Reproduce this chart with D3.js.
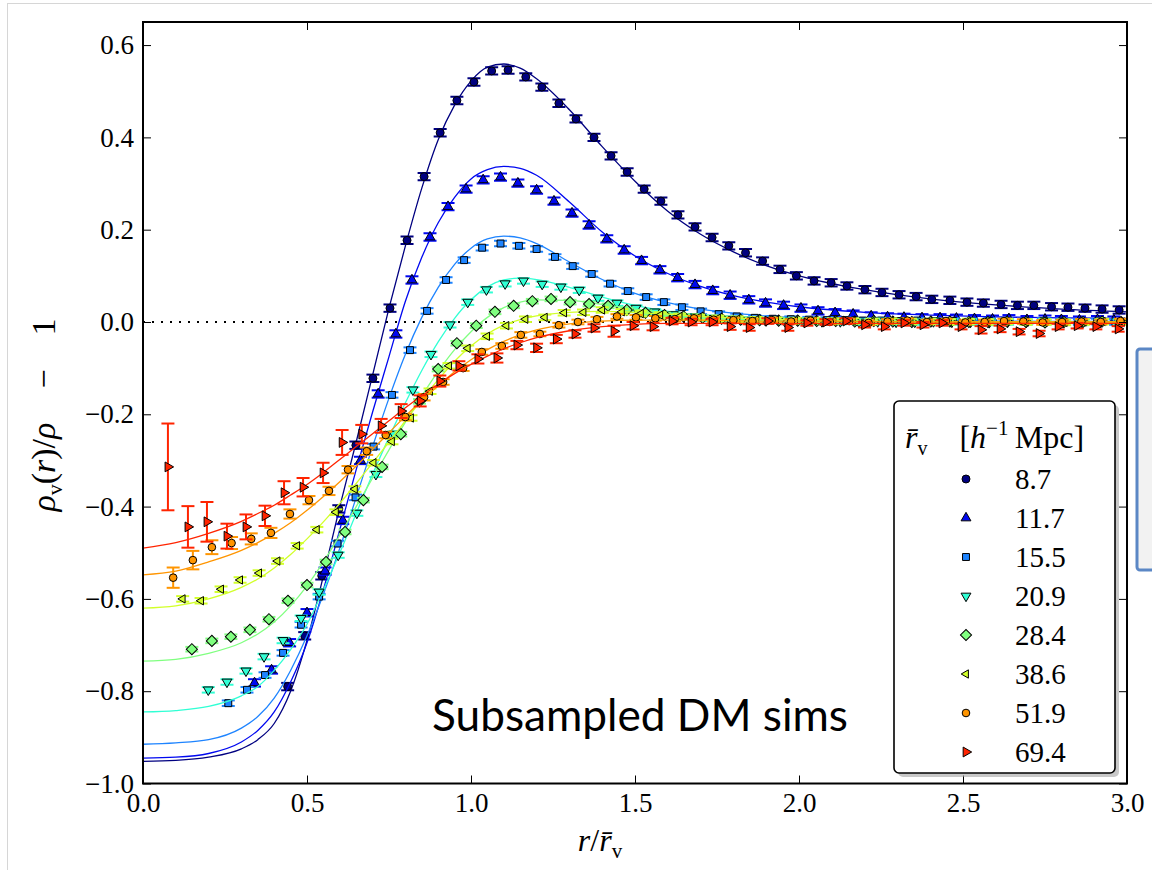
<!DOCTYPE html>
<html>
<head>
<meta charset="utf-8">
<script src="https://cdn.jsdelivr.net/npm/d3@7"></script>
<style>
  html, body { margin: 0; padding: 0; background: #fff; }
  svg { display: block; }
</style>
</head>
<body>
<div id="chart"></div>
<script>
// legend labels (mean void radius, h^-1 Mpc)
const voidRadii = ['8.7', '11.7', '15.5', '20.9', '28.4', '38.6', '51.9', '69.4'];

const xTicks = [0.0, 0.5, 1.0, 1.5, 2.0, 2.5, 3.0];
const yTicks = [-1.0, -0.8, -0.6, -0.4, -0.2, 0.0, 0.2, 0.4, 0.6];

// fitted profiles, sampled on a shared r grid
const fitR = [0, 0.1, 0.2, 0.3, 0.35, 0.4, 0.45, 0.5, 0.55, 0.6, 0.65, 0.7, 0.75, 0.8, 0.85, 0.9, 0.95, 1.0,
  1.05, 1.1, 1.15, 1.2, 1.3, 1.4, 1.5, 1.6, 1.7, 1.8, 1.9, 2.0, 2.2, 2.4, 2.6, 2.8, 3.0];
const fit87 = [-0.952, -0.950, -0.943, -0.925, -0.905, -0.87, -0.80, -0.69, -0.55, -0.40, -0.26, -0.115, 0.03, 0.165,
  0.29, 0.395, 0.47, 0.522, 0.552, 0.559, 0.55, 0.527, 0.46, 0.38, 0.305, 0.24, 0.19, 0.152, 0.122, 0.10, 0.07, 0.05,
  0.037, 0.028, 0.022];
const fit117 = [-0.945, -0.943, -0.935, -0.91, -0.885, -0.845, -0.78, -0.695, -0.58, -0.45, -0.32, -0.195, -0.075,
  0.045, 0.14, 0.215, 0.27, 0.31, 0.33, 0.337, 0.333, 0.318, 0.26, 0.195, 0.143, 0.105, 0.077, 0.057, 0.043, 0.033,
  0.021, 0.015, 0.011, 0.009, 0.008];
const fit155 = [-0.915, -0.912, -0.905, -0.88, -0.855, -0.815, -0.755, -0.68, -0.59, -0.49, -0.38, -0.27, -0.165,
  -0.07, 0.01, 0.075, 0.125, 0.16, 0.18, 0.186, 0.182, 0.17, 0.13, 0.092, 0.062, 0.042, 0.028, 0.019, 0.013, 0.009,
  0.005, 0.003, 0.002, 0.001, 0.001];
const fit209 = [-0.845, -0.842, -0.833, -0.81, -0.79, -0.755, -0.71, -0.655, -0.58, -0.50, -0.415, -0.33, -0.25,
  -0.175, -0.105, -0.043, 0.008, 0.048, 0.076, 0.091, 0.095, 0.092, 0.075, 0.054, 0.036, 0.023, 0.014, 0.009, 0.006,
  0.004, 0.002, 0.001, 0, 0, 0];
const fit284 = [-0.735, -0.731, -0.718, -0.695, -0.676, -0.65, -0.615, -0.572, -0.52, -0.462, -0.40, -0.338, -0.277,
  -0.217, -0.16, -0.107, -0.06, -0.021, 0.01, 0.031, 0.043, 0.048, 0.047, 0.038, 0.028, 0.019, 0.012, 0.008, 0.005,
  0.003, 0.001, 0, 0, 0, 0];
const fit386 = [-0.62, -0.615, -0.60, -0.575, -0.557, -0.533, -0.504, -0.47, -0.433, -0.393, -0.35, -0.305, -0.26,
  -0.214, -0.168, -0.125, -0.085, -0.052, -0.026, -0.007, 0.005, 0.013, 0.021, 0.023, 0.021, 0.017, 0.012, 0.009,
  0.006, 0.004, 0.002, 0.001, 0, 0, 0];
const fit519 = [-0.548, -0.54, -0.52, -0.495, -0.478, -0.458, -0.435, -0.408, -0.378, -0.346, -0.312, -0.276, -0.24,
  -0.204, -0.17, -0.138, -0.108, -0.082, -0.06, -0.042, -0.028, -0.017, -0.004, 0.002, 0.004, 0.004, 0.004, 0.003,
  0.002, 0.002, 0.001, 0, 0, 0, 0];
const fit694 = [-0.49, -0.478, -0.458, -0.432, -0.415, -0.397, -0.375, -0.352, -0.326, -0.298, -0.27, -0.242, -0.214,
  -0.186, -0.16, -0.135, -0.112, -0.092, -0.074, -0.058, -0.045, -0.034, -0.019, -0.01, -0.005, -0.003, -0.003,
  -0.003, -0.003, -0.003, -0.003, -0.003, -0.003, -0.003, -0.003];

// stacked simulation profiles: bin centres r and density contrast
const r87 = [0.441, 0.493, 0.545, 0.597, 0.649, 0.701, 0.753, 0.805, 0.857, 0.906, 0.957, 1.009, 1.063, 1.113, 1.167,
  1.216, 1.268, 1.32, 1.375, 1.427, 1.476, 1.528, 1.579, 1.631, 1.683, 1.735, 1.786, 1.837, 1.889, 1.942, 1.992, 2.046,
  2.098, 2.146, 2.201, 2.253, 2.305, 2.357, 2.405, 2.46, 2.512, 2.562, 2.616, 2.666, 2.716, 2.77, 2.82, 2.872, 2.924,
  2.976];
const d87 = [-0.79, -0.68, -0.55, -0.405, -0.267, -0.122, 0.03, 0.177, 0.315, 0.41, 0.48, 0.52, 0.544, 0.546, 0.531,
  0.509, 0.474, 0.44, 0.40, 0.36, 0.325, 0.288, 0.262, 0.232, 0.206, 0.183, 0.165, 0.15, 0.132, 0.114, 0.10, 0.089,
  0.085, 0.078, 0.07, 0.064, 0.059, 0.055, 0.049, 0.047, 0.043, 0.041, 0.038, 0.036, 0.036, 0.033, 0.032, 0.030, 0.028,
  0.026];

const r117 = [0.34, 0.392, 0.447, 0.50, 0.555, 0.609, 0.663, 0.717, 0.771, 0.82, 0.875, 0.93, 0.985, 1.037, 1.09, 1.143,
  1.20, 1.253, 1.308, 1.36, 1.414, 1.467, 1.52, 1.576, 1.63, 1.683, 1.737, 1.79, 1.847, 1.898, 1.953, 2.006, 2.058,
  2.11, 2.165, 2.22, 2.27, 2.32, 2.375, 2.43, 2.48, 2.535, 2.59, 2.64, 2.695, 2.75, 2.80, 2.855, 2.91, 2.96];
const d117 = [-0.782, -0.754, -0.695, -0.63, -0.54, -0.43, -0.30, -0.156, -0.026, 0.091, 0.184, 0.25, 0.288, 0.308,
  0.314, 0.301, 0.286, 0.262, 0.236, 0.21, 0.18, 0.156, 0.133, 0.113, 0.096, 0.081, 0.068, 0.058, 0.048, 0.041, 0.036,
  0.030, 0.024, 0.02, 0.017, 0.013, 0.011, 0.010, 0.009, 0.009, 0.008, 0.007, 0.006, 0.007, 0.005, 0.006, 0.005,
  0.004, 0.005, 0.004];

const r155 = [0.26, 0.317, 0.372, 0.427, 0.482, 0.537, 0.593, 0.648, 0.703, 0.759, 0.814, 0.866, 0.924, 0.979, 1.034,
  1.09, 1.146, 1.20, 1.256, 1.31, 1.368, 1.424, 1.478, 1.534, 1.588, 1.643, 1.70, 1.755, 1.81, 1.865, 1.92, 1.975,
  2.03, 2.085, 2.14, 2.195, 2.25, 2.305, 2.36, 2.415, 2.47, 2.525, 2.58, 2.635, 2.69, 2.745, 2.80, 2.855, 2.91, 2.965];
const d155 = [-0.826, -0.797, -0.765, -0.717, -0.656, -0.595, -0.48, -0.38, -0.27, -0.158, -0.061, 0.024, 0.091, 0.134,
  0.161, 0.17, 0.165, 0.158, 0.141, 0.121, 0.104, 0.083, 0.067, 0.054, 0.043, 0.032, 0.023, 0.017, 0.012, 0.009, 0.007,
  0.006, 0.005, 0.004, 0.004, 0.003, 0.003, 0.002, 0.003, 0.002, 0.002, 0.001, 0.002, 0.001, 0.001, 0.002, 0.001, 0.0,
  0.001, 0.0];

const r209 = [0.199, 0.256, 0.314, 0.369, 0.427, 0.482, 0.537, 0.595, 0.652, 0.71, 0.765, 0.823, 0.878, 0.936, 0.99,
  1.047, 1.104, 1.16, 1.217, 1.274, 1.33, 1.387, 1.445, 1.503, 1.56, 1.617, 1.673, 1.73, 1.786, 1.843, 1.9, 1.956,
  2.013, 2.07, 2.126, 2.183, 2.24, 2.296, 2.353, 2.41, 2.466, 2.523, 2.58, 2.636, 2.693, 2.75, 2.806, 2.863, 2.92,
  2.976];
const d209 = [-0.797, -0.78, -0.756, -0.725, -0.69, -0.642, -0.585, -0.505, -0.414, -0.33, -0.243, -0.147, -0.07,
  -0.006, 0.043, 0.07, 0.083, 0.089, 0.082, 0.076, 0.069, 0.052, 0.041, 0.030, 0.022, 0.016, 0.011, 0.008, 0.006,
  0.004, 0.003, 0.002, 0.002, 0.001, 0.001, 0.0, 0.001, 0.0, 0.0, 0.001, 0.0, 0.0, -0.001, 0.0, 0.0, 0.001, 0.0, -0.001,
  0.0, 0.0];

const r284 = [0.149, 0.21, 0.268, 0.326, 0.384, 0.442, 0.50, 0.558, 0.616, 0.672, 0.729, 0.786, 0.843, 0.90, 0.957,
  1.016, 1.073, 1.13, 1.187, 1.244, 1.302, 1.36, 1.418, 1.475, 1.532, 1.59, 1.648, 1.706, 1.764, 1.822, 1.88, 1.938,
  1.996, 2.054, 2.112, 2.17, 2.228, 2.286, 2.344, 2.402, 2.46, 2.518, 2.576, 2.634, 2.692, 2.75, 2.808, 2.866, 2.924,
  2.982];
const d284 = [-0.709, -0.691, -0.682, -0.667, -0.644, -0.604, -0.57, -0.52, -0.455, -0.386, -0.314, -0.243, -0.172,
  -0.102, -0.046, -0.008, 0.022, 0.035, 0.045, 0.05, 0.043, 0.039, 0.035, 0.026, 0.02, 0.015, 0.012, 0.009, 0.007,
  0.005, 0.004, 0.003, 0.003, 0.002, 0.002, 0.001, 0.002, 0.001, 0.0, 0.001, 0.001, 0.0, 0.0, 0.001, 0.0, -0.001, 0.0,
  0.0, 0.001, 0.0];

const r386 = [0.121, 0.177, 0.238, 0.296, 0.354, 0.41, 0.47, 0.53, 0.588, 0.646, 0.703, 0.759, 0.817, 0.875, 0.933,
  0.99, 1.049, 1.108, 1.166, 1.225, 1.284, 1.343, 1.40, 1.46, 1.518, 1.577, 1.636, 1.694, 1.753, 1.812, 1.87, 1.93,
  1.988, 2.046, 2.105, 2.164, 2.222, 2.28, 2.34, 2.398, 2.457, 2.516, 2.574, 2.633, 2.692, 2.75, 2.81, 2.868, 2.926,
  2.985];
const d386 = [-0.60, -0.604, -0.579, -0.559, -0.544, -0.518, -0.485, -0.45, -0.412, -0.362, -0.305, -0.259, -0.208,
  -0.15, -0.095, -0.057, -0.031, -0.008, 0.006, 0.01, 0.02, 0.021, 0.026, 0.022, 0.018, 0.015, 0.012, 0.01, 0.008,
  0.006, 0.005, 0.004, 0.003, 0.003, 0.002, 0.002, 0.001, 0.002, 0.001, 0.001, 0.0, 0.001, 0.0, 0.001, 0.0, 0.0,
  -0.001, 0.0, 0.001, 0.0];

const r519 = [0.092, 0.152, 0.21, 0.27, 0.33, 0.39, 0.448, 0.506, 0.567, 0.625, 0.682, 0.74, 0.80, 0.857, 0.915, 0.976,
  1.033, 1.094, 1.152, 1.21, 1.268, 1.326, 1.384, 1.445, 1.503, 1.562, 1.621, 1.68, 1.74, 1.80, 1.858, 1.917, 1.976,
  2.035, 2.094, 2.153, 2.212, 2.27, 2.33, 2.39, 2.448, 2.507, 2.566, 2.625, 2.684, 2.743, 2.802, 2.861, 2.92, 2.98];
const d519 = [-0.554, -0.516, -0.488, -0.479, -0.47, -0.457, -0.416, -0.386, -0.366, -0.32, -0.28, -0.245, -0.206,
  -0.163, -0.13, -0.10, -0.065, -0.052, -0.028, -0.026, -0.007, 0.0, 0.006, 0.012, 0.01, 0.008, 0.006, 0.008, 0.005,
  0.004, 0.002, 0.004, 0.001, 0.003, 0.0, 0.002, -0.002, 0.001, 0.003, 0.0, 0.002, -0.001, 0.0, 0.002, 0.001, -0.001,
  0.0, 0.001, 0.0, 0.002];
const e519 = [0.022, 0.02, 0.015, 0.013, 0.012, 0.011, 0.01, 0.009, 0.009, 0.008, 0.008, 0.007, 0.007, 0.007, 0.006,
  0.006, 0.006, 0.006, 0.006, 0.005, 0.005, 0.005, 0.005, 0.005, 0.005, 0.005, 0.005, 0.005, 0.005, 0.005, 0.005,
  0.005, 0.005, 0.005, 0.005, 0.005, 0.005, 0.005, 0.005, 0.005, 0.005, 0.005, 0.005, 0.005, 0.005, 0.005, 0.005,
  0.005, 0.005, 0.005];

const r694 = [0.076, 0.137, 0.195, 0.256, 0.314, 0.372, 0.43, 0.488, 0.549, 0.607, 0.667, 0.726, 0.787, 0.845, 0.905,
  0.963, 1.021, 1.079, 1.14, 1.20, 1.26, 1.317, 1.375, 1.436, 1.494, 1.555, 1.613, 1.671, 1.735, 1.79, 1.848, 1.905,
  1.966, 2.024, 2.082, 2.143, 2.2, 2.26, 2.32, 2.378, 2.436, 2.494, 2.555, 2.613, 2.671, 2.732, 2.79, 2.848, 2.905,
  2.973];
const d694 = [-0.314, -0.444, -0.433, -0.464, -0.444, -0.42, -0.37, -0.358, -0.327, -0.261, -0.243, -0.225, -0.193,
  -0.171, -0.128, -0.095, -0.08, -0.078, -0.05, -0.056, -0.037, -0.026, -0.013, -0.02, -0.008, -0.01, 0.002, 0.0, 0.0,
  -0.01, -0.012, 0.002, -0.012, -0.002, 0.0, 0.002, -0.006, -0.01, -0.002, -0.006, -0.002, -0.01, -0.017, -0.015,
  -0.021, -0.025, -0.01, -0.008, -0.01, -0.015];
const e694 = [0.094, 0.045, 0.043, 0.027, 0.027, 0.022, 0.025, 0.02, 0.022, 0.027, 0.02, 0.015, 0.015, 0.012, 0.012,
  0.01, 0.01, 0.01, 0.009, 0.009, 0.009, 0.008, 0.008, 0.012, 0.008, 0.008, 0.007, 0.007, 0.007, 0.007, 0.007, 0.006,
  0.007, 0.006, 0.006, 0.006, 0.006, 0.006, 0.006, 0.006, 0.006, 0.006, 0.008, 0.007, 0.006, 0.006, 0.006, 0.006,
  0.006, 0.006];

// typical 1-sigma error for the well-sampled stacks
const typicalErr = [0.008, 0.008, 0.006, 0.006, 0.005, 0.006];

const colors = ['#000080', '#0008f0', '#1e84ff', '#30ffd4', '#80ff80', '#d2ff2a', '#ff9500', '#ff2400'];
const markers = [
  { type: d3.symbolCircle, size: 50, rotate: 0 },
  { type: d3.symbolTriangle, size: 42, rotate: 0 },
  { type: d3.symbolSquare, size: 48, rotate: 0 },
  { type: d3.symbolTriangle, size: 42, rotate: 180 },
  { type: d3.symbolSquare, size: 62, rotate: 45 },
  { type: d3.symbolTriangle, size: 30, rotate: -90 },
  { type: d3.symbolCircle, size: 46, rotate: 0 },
  { type: d3.symbolTriangle, size: 42, rotate: 90 },
];

const stacks = [
  { fit: fit87, r: r87, d: d87, e: r87.map(() => typicalErr[0]) },
  { fit: fit117, r: r117, d: d117, e: r117.map(() => typicalErr[1]) },
  { fit: fit155, r: r155, d: d155, e: r155.map(() => typicalErr[2]) },
  { fit: fit209, r: r209, d: d209, e: r209.map(() => typicalErr[3]) },
  { fit: fit284, r: r284, d: d284, e: r284.map(() => typicalErr[4]) },
  { fit: fit386, r: r386, d: d386, e: r386.map(() => typicalErr[5]) },
  { fit: fit519, r: r519, d: d519, e: e519 },
  { fit: fit694, r: r694, d: d694, e: e694 },
];

const width = 1152;
const height = 870;
const plot = { left: 143, right: 1127, top: 22, bottom: 783.5 };
const serif = '"Liberation Serif", "Times New Roman", serif';

const x = d3.scaleLinear().domain([0, 3]).range([plot.left, plot.right]);
const y = d3.scaleLinear().domain([-1, 0.65]).range([plot.bottom, plot.top]);

const svg = d3.select('#chart').append('svg')
  .attr('width', width)
  .attr('height', height)
  .attr('viewBox', `0 0 ${width} ${height}`);

svg.append('rect').attr('width', width).attr('height', height).attr('fill', '#fff');

// slide frame and the edge of the neighbouring text box
svg.append('rect')
  .attr('x', 7.5).attr('y', 3.5).attr('width', 1300).attr('height', 1000)
  .attr('fill', 'none').attr('stroke', '#d6d6d6').attr('stroke-width', 1);
svg.append('rect')
  .attr('x', 1137).attr('y', 349).attr('width', 60).attr('height', 221).attr('rx', 3)
  .attr('fill', '#f2f2f2').attr('stroke', '#5b87c5').attr('stroke-width', 3);

svg.append('defs').append('clipPath').attr('id', 'plot-clip')
  .append('rect')
  .attr('x', plot.left).attr('y', plot.top)
  .attr('width', plot.right - plot.left).attr('height', plot.bottom - plot.top);

const root = svg.append('g').attr('clip-path', 'url(#plot-clip)');

root.append('line')
  .attr('x1', x(0)).attr('x2', x(3)).attr('y1', y(0)).attr('y2', y(0))
  .attr('stroke', '#000').attr('stroke-width', 2).attr('stroke-dasharray', '2,7');

function markerPath(spec) {
  return d3.symbol().type(spec.type).size(spec.size)();
}

function drawStack(g, stack, i) {
  const color = colors[i];
  const line = d3.line()
    .x((d) => x(d[0]))
    .y((d) => y(d[1]))
    .curve(d3.curveMonotoneX);

  g.append('path')
    .datum(fitR.map((r, k) => [r, stack.fit[k]]))
    .attr('d', line)
    .attr('fill', 'none')
    .attr('stroke', color)
    .attr('stroke-width', 1.3);

  const points = stack.r.map((r, k) => ({ r, d: stack.d[k], e: stack.e[k] }));

  const bars = g.append('g').attr('stroke', color).attr('stroke-width', 2);
  points.forEach((p) => {
    const cx = x(p.r);
    const y0 = y(p.d - p.e);
    const y1 = y(p.d + p.e);
    bars.append('line').attr('x1', cx).attr('x2', cx).attr('y1', y0).attr('y2', y1);
    bars.append('line').attr('x1', cx - 6.5).attr('x2', cx + 6.5).attr('y1', y0).attr('y2', y0);
    bars.append('line').attr('x1', cx - 6.5).attr('x2', cx + 6.5).attr('y1', y1).attr('y2', y1);
  });

  const spec = markers[i];
  g.append('g')
    .selectAll('path')
    .data(points)
    .join('path')
    .attr('d', markerPath(spec))
    .attr('transform', (p) => `translate(${x(p.r)},${y(p.d)}) rotate(${spec.rotate})`)
    .attr('fill', color)
    .attr('stroke', '#000')
    .attr('stroke-width', 1);
}

stacks.forEach((stack, i) => drawStack(root, stack, i));

// frame and inward ticks on all sides
svg.append('rect')
  .attr('x', plot.left).attr('y', plot.top)
  .attr('width', plot.right - plot.left).attr('height', plot.bottom - plot.top)
  .attr('fill', 'none').attr('stroke', '#000').attr('stroke-width', 2);

const fmt = d3.format('.1f');
const axes = [
  { axis: d3.axisBottom(x).tickValues(xTicks).tickFormat(fmt), t: `translate(0,${plot.bottom})` },
  { axis: d3.axisTop(x).tickValues(xTicks).tickFormat(''), t: `translate(0,${plot.top})` },
  { axis: d3.axisLeft(y).tickValues(yTicks).tickFormat(fmt), t: `translate(${plot.left},0)` },
  { axis: d3.axisRight(y).tickValues(yTicks).tickFormat(''), t: `translate(${plot.right},0)` },
];
axes.forEach(({ axis, t }) => {
  const g = svg.append('g')
    .attr('transform', t)
    .call(axis.tickSize(-8).tickPadding(9));
  g.select('.domain').remove();
  g.selectAll('.tick line').attr('stroke', '#000').attr('stroke-width', 1);
  g.selectAll('.tick text')
    .attr('font-family', serif)
    .attr('font-size', 27)
    .attr('fill', '#000');
});

// axis titles
const xTitle = svg.append('text')
  .attr('x', 600).attr('y', 851)
  .attr('text-anchor', 'middle')
  .attr('font-family', serif).attr('font-size', 32);
xTitle.append('tspan').attr('font-style', 'italic').text('r');
xTitle.append('tspan').text('/');
xTitle.append('tspan').attr('font-style', 'italic').text('r\u0304');
xTitle.append('tspan').attr('font-size', 21).attr('dy', 7).text('v');

const yTitle = svg.append('text')
  .attr('transform', 'translate(55,415) rotate(-90)')
  .attr('text-anchor', 'middle')
  .attr('font-family', serif).attr('font-size', 34);
yTitle.append('tspan').attr('font-style', 'italic').text('\u03c1');
yTitle.append('tspan').attr('font-size', 22).attr('dy', 7).text('v');
yTitle.append('tspan').attr('dy', -7).text('(');
yTitle.append('tspan').attr('font-style', 'italic').text('r');
yTitle.append('tspan').text(')/');
yTitle.append('tspan').attr('font-style', 'italic').text('\u03c1');
yTitle.append('tspan').text('\u2003\u2212\u20031');

svg.append('text')
  .attr('x', 432).attr('y', 731)
  .attr('font-family', 'Lato, "Open Sans", sans-serif')
  .attr('font-size', 45)
  .attr('textLength', 416)
  .attr('lengthAdjust', 'spacingAndGlyphs')
  .attr('fill', '#000')
  .text('Subsampled DM sims');

// legend
function drawLegend() {
  const box = { x: 894, y: 401, w: 221, h: 372 };
  const lg = svg.append('g');
  lg.append('rect')
    .attr('x', box.x + 4).attr('y', box.y + 4).attr('width', box.w).attr('height', box.h).attr('rx', 5)
    .attr('fill', '#9a9a9a').attr('opacity', 0.55);
  lg.append('rect')
    .attr('x', box.x).attr('y', box.y).attr('width', box.w).attr('height', box.h).attr('rx', 5)
    .attr('fill', '#fff').attr('stroke', '#000').attr('stroke-width', 1.6);

  const title = lg.append('text')
    .attr('x', 905).attr('y', 448)
    .attr('font-family', serif).attr('font-size', 32);
  title.append('tspan').attr('font-style', 'italic').text('r\u0304');
  title.append('tspan').attr('font-size', 20).attr('dy', 7).text('v');
  title.append('tspan').attr('dy', -7).text('\u2003[');
  title.append('tspan').attr('font-style', 'italic').text('h');
  title.append('tspan').attr('font-size', 21).attr('dy', -13).text('\u22121');
  title.append('tspan').attr('dy', 13).text('\u2009Mpc]');

  voidRadii.forEach((label, i) => {
    const cy = 479 + i * 39;
    const spec = markers[i];
    lg.append('path')
      .attr('d', markerPath(spec))
      .attr('transform', `translate(966,${cy}) rotate(${spec.rotate})`)
      .attr('fill', colors[i]).attr('stroke', '#000').attr('stroke-width', 1);
    lg.append('text')
      .attr('x', 1015).attr('y', cy + 10)
      .attr('font-family', serif).attr('font-size', 29)
      .text(label);
  });
}

drawLegend();
</script>
</body>
</html>
